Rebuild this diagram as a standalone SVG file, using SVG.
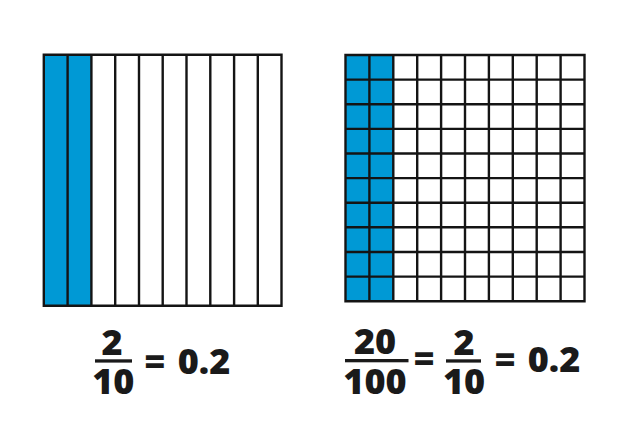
<svg xmlns="http://www.w3.org/2000/svg" width="630" height="445" viewBox="0 0 630 445">
<style>
.bg{fill:#ffffff}
.blue{fill:#0099D5}
.grid{fill:none;stroke:#141414;stroke-width:2.4}
.t{font-family:"Open Sans","Liberation Sans",sans-serif;font-weight:800;font-size:36px;fill:#1a1a1a;text-anchor:middle}
.bar{fill:#1a1a1a}
</style>
<rect class="bg" x="0" y="0" width="630" height="445"/>
<g id="tenths-grid">
<rect class="blue" x="43.8" y="54.7" width="47.6" height="251.1"/>
<path class="grid" d="M43.8 54.7H281.5V305.8H43.8Z M67.6 54.7V305.8 M91.4 54.7V305.8 M115.2 54.7V305.8 M139 54.7V305.8 M162.7 54.7V305.8 M186.5 54.7V305.8 M210.3 54.7V305.8 M234.1 54.7V305.8 M257.8 54.7V305.8"/>
</g>
<g id="hundredths-grid">
<rect class="blue" x="345.5" y="55" width="47.8" height="246.2"/>
<path class="grid" d="M345.5 55H584.5V301.2H345.5Z M369.4 55V301.2 M393.3 55V301.2 M417.2 55V301.2 M441.1 55V301.2 M465 55V301.2 M488.9 55V301.2 M512.8 55V301.2 M536.7 55V301.2 M560.6 55V301.2 M345.5 79.6H584.5 M345.5 104.2H584.5 M345.5 128.9H584.5 M345.5 153.5H584.5 M345.5 178.1H584.5 M345.5 202.7H584.5 M345.5 227.3H584.5 M345.5 252H584.5 M345.5 276.6H584.5"/>
</g>
<g id="left-equation">
<text class="t" x="112" y="355">2</text>
<rect class="bar" x="95" y="359.3" width="37" height="3.3"/>
<text class="t" x="113.3" y="394">10</text>
<text class="t" x="154.7" y="374">=</text>
<text class="t" x="204" y="374">0.2</text>
</g>
<g id="right-equation">
<text class="t" x="375" y="353.5">20</text>
<rect class="bar" x="345" y="359" width="63.5" height="3.3"/>
<text class="t" x="375" y="393.5">100</text>
<text class="t" x="424" y="371">=</text>
<text class="t" x="464" y="355">2</text>
<rect class="bar" x="446" y="359.3" width="35" height="3.3"/>
<text class="t" x="464" y="394">10</text>
<text class="t" x="505" y="372">=</text>
<text class="t" x="554" y="372">0.2</text>
</g>
</svg>
